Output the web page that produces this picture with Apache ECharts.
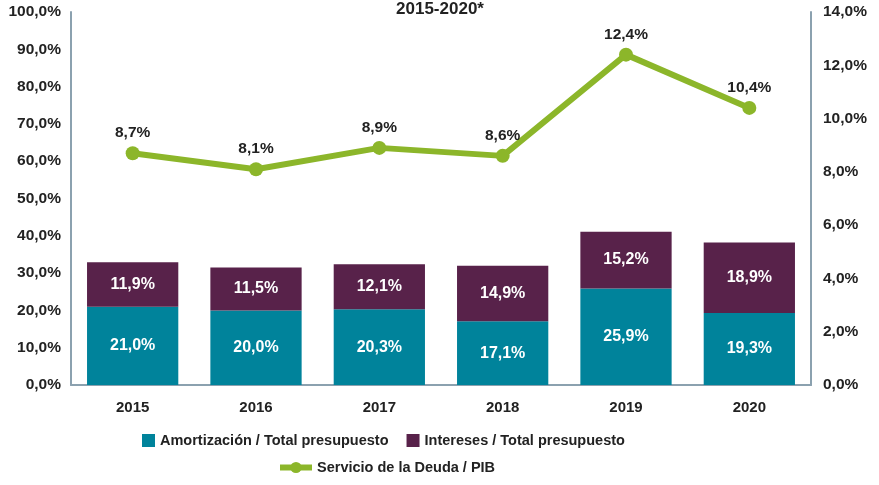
<!DOCTYPE html>
<html><head><meta charset="utf-8">
<script src="https://cdn.jsdelivr.net/npm/echarts@6/dist/echarts.min.js"></script>
<style>html,body{margin:0;padding:0;background:#fff}#c{width:879px;height:485px}</style>
</head><body><div id="c"></div>
<script>
var years = ['2015','2016','2017','2018','2019','2020'];
var amortizacion = [21.0, 20.0, 20.3, 17.1, 25.9, 19.3];
var intereses = [11.9, 11.5, 12.1, 14.9, 15.2, 18.9];
var servicioPIB = [8.7, 8.1, 8.9, 8.6, 12.4, 10.4];
var titleText = '2015-2020*';

function pct(v){ return Number(v).toFixed(1).replace('.', ',') + '%'; }
var font = '"Liberation Sans", Arial, sans-serif';
var axisCol = '#8ba1af';
var chart = echarts.init(document.getElementById('c'));
chart.setOption({
  animation: false,
  title: { text: titleText, left: 435, top: -4, textAlign: 'center',
    textStyle: { fontFamily: font, fontWeight: 'bold', fontSize: 17, color: '#222' } },
  grid: { left: 71, right: 68, top: 12, bottom: 100 },
  legend: [
    { data: ['Amortización / Total presupuesto', 'Intereses / Total presupuesto'],
      left: 137, top: 428, itemWidth: 13, itemHeight: 13, itemGap: 18, icon: 'rect',
      textStyle: { fontFamily: font, fontWeight: 'bold', fontSize: 14.5, color: '#222' } },
    { data: ['Servicio de la Deuda / PIB'], left: 272, top: 455, itemWidth: 32, itemHeight: 14,
      lineStyle: { width: 6 },
      textStyle: { fontFamily: font, fontWeight: 'bold', fontSize: 14.5, color: '#222' } }
  ],
  xAxis: { type: 'category', data: years,
    axisLine: { lineStyle: { color: axisCol, width: 2 } }, axisTick: { show: false },
    axisLabel: { fontFamily: font, fontWeight: 'bold', fontSize: 15, color: '#222', margin: 15 } },
  yAxis: [
    { type: 'value', min: 0, max: 100, interval: 10, splitLine: { show: false },
      axisLine: { show: true, lineStyle: { color: axisCol, width: 2 } }, axisTick: { show: false },
      axisLabel: { formatter: pct, fontFamily: font, fontWeight: 'bold', fontSize: 15.5, color: '#222', margin: 10 } },
    { type: 'value', min: 0, max: 14, interval: 2, splitLine: { show: false }, position: 'right',
      axisLine: { show: true, lineStyle: { color: axisCol, width: 2 } }, axisTick: { show: false },
      axisLabel: { formatter: pct, fontFamily: font, fontWeight: 'bold', fontSize: 15.5, color: '#222', margin: 12 } }
  ],
  series: [
    { name: 'Amortización / Total presupuesto', type: 'bar', stack: 'a', data: amortizacion,
      barWidth: '74%', itemStyle: { color: '#00839b' },
      label: { show: true, position: 'inside', formatter: function(p){ return pct(p.value); },
        color: '#fff', fontFamily: font, fontWeight: 'bold', fontSize: 16 } },
    { name: 'Intereses / Total presupuesto', type: 'bar', stack: 'a', data: intereses,
      barWidth: '74%', itemStyle: { color: '#58224a' },
      label: { show: true, position: 'inside', formatter: function(p){ return pct(p.value); },
        color: '#fff', fontFamily: font, fontWeight: 'bold', fontSize: 16 } },
    { name: 'Servicio de la Deuda / PIB', type: 'line', yAxisIndex: 1, data: servicioPIB,
      symbol: 'circle', symbolSize: 14, lineStyle: { color: '#8cb62a', width: 6 },
      itemStyle: { color: '#8cb62a' },
      label: { show: true, position: 'top', distance: 5, formatter: function(p){ return pct(p.value); },
        color: '#222', fontFamily: font, fontWeight: 'bold', fontSize: 15.5 } }
  ]
});
</script></body></html>
